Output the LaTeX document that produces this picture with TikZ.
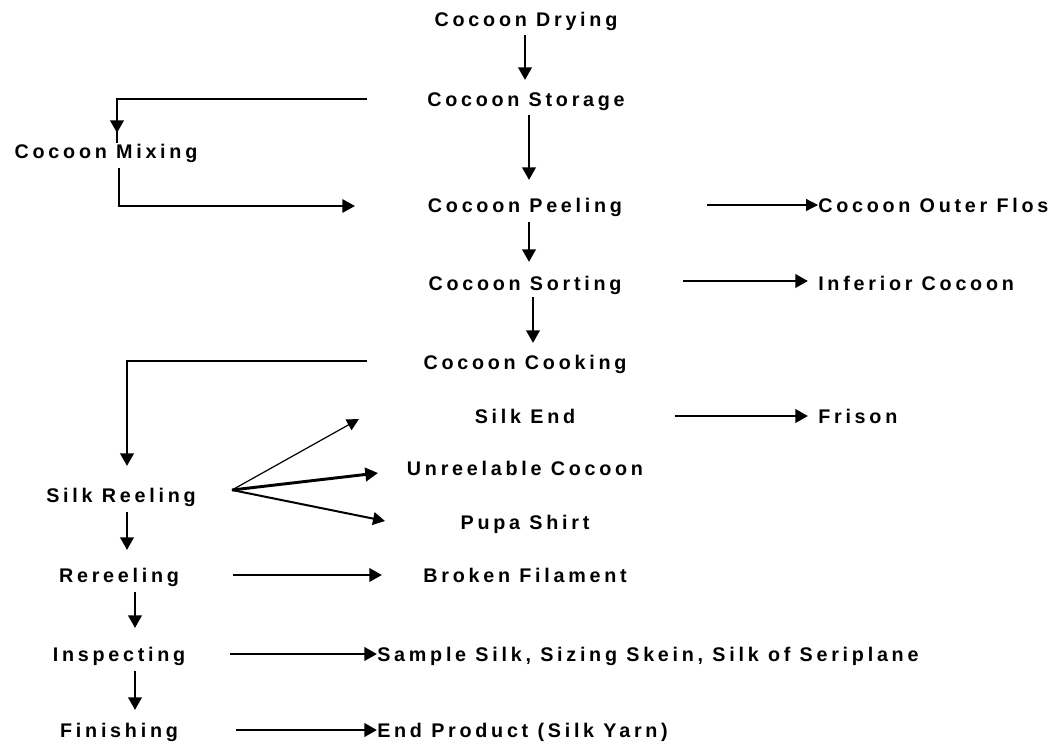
\documentclass[tikz,border=0pt]{standalone}
\usepackage{fontspec}
\setmainfont{Liberation Sans}[LetterSpace=19]
\usetikzlibrary{arrows.meta,calc}
\begin{document}
\begin{tikzpicture}[x=0.75pt,y=-0.75pt,
  lbl/.style={inner sep=0pt,text height=10.5pt,text depth=0pt,font=\fontsize{14.8pt}{16pt}\selectfont\bfseries},
  lblw/.style={lbl,anchor=west},
  arr/.style={line width=2.2pt,-{Triangle[length=9.5pt,width=10pt]}},
  arrthin/.style={line width=0.9pt,-{Triangle[length=9pt,width=9pt]}},
  arrmid/.style={line width=1.5pt,-{Triangle[length=9pt,width=9.5pt]}},
  thinline/.style={line width=1pt}]
\useasboundingbox (0,0) rectangle (1063,742);
\node[lbl] (drying) at (526,20) {Cocoon Drying};
\node[lbl] (storage) at (526,99) {Cocoon Storage};
\node[lbl] (mixing) at (106,151) {Cocoon Mixing};
\node[lbl] (peeling) at (525,205) {Cocoon Peeling};
\node[lblw] (flos) at (818,205) {Cocoon Outer Flos};
\node[lbl] (sorting) at (525,283) {Cocoon Sorting};
\node[lblw] (inferior) at (818,283) {Inferior Cocoon};
\node[lbl] (cooking) at (525,362) {Cocoon Cooking};
\node[lbl] (silkend) at (525,416) {Silk End};
\node[lblw] (frison) at (818,416) {Frison};
\node[lbl] (reeling) at (121,495) {Silk Reeling};
\node[lbl] (unreel) at (525,468) {Unreelable Cocoon};
\node[lbl] (pupa) at (525,522) {Pupa Shirt};
\node[lbl] (rereeling) at (119,575) {Rereeling};
\node[lbl] (broken) at (525,575) {Broken Filament};
\node[lbl] (inspecting) at (119,654) {Inspecting};
\node[lblw] (sample) at (377,654) {Sample Silk, Sizing Skein, Silk of Seriplane};
\node[lbl] (finishing) at (119,730) {Finishing};
\node[lblw] (endprod) at (377,730) {End Product (Silk Yarn)};

\draw[arr] ($(drying)+(-1,15)$) -- ($(storage)+(-1,-19)$);
\draw[thinline] ($(storage)+(-159,0)$) -| ($(mixing)+(11,-8)$);
\draw[arr] ($(mixing)+(11,-38)$) -- ($(mixing)+(11,-18)$);
\draw[arr] ($(storage)+(3,16)$) -- ($(peeling)+(4,-25)$);
\draw[line width=1.6pt,-{Triangle[length=9.5pt,width=10pt]}] ($(mixing)+(13,17)$) |- ($(peeling)+(-170,1)$);
\draw[arrthin] ($(peeling)+(182,0)$) -- (flos.west);
\draw[arr] ($(peeling)+(4,17)$) -- ($(sorting)+(4,-21)$);
\draw[arr] ($(sorting)+(158,-2)$) -- ($(inferior.west)+(-10,-2)$);
\draw[arr] ($(sorting)+(8,14)$) -- ($(cooking)+(8,-19)$);
\draw[thinline] ($(cooking)+(-158,-1)$) -| ($(reeling)+(6,-60)$);
\draw[arr] ($(reeling)+(6,-80)$) -- ($(reeling)+(6,-29)$);
\draw[arr] ($(silkend)+(150,0)$) -- ($(frison.west)+(-10,0)$);
\coordinate (fan) at ($(reeling)+(111,-5)$);
\draw[arrthin] (fan) -- ($(silkend)+(-166,3)$);
\draw[arr] (fan) -- ($(unreel)+(-147,5)$);
\draw[arrmid] (fan) -- ($(pupa)+(-140,-1)$);
\draw[arr] ($(reeling)+(6,17)$) -- ($(rereeling)+(8,-25)$);
\draw[arr] ($(rereeling)+(114,0)$) -- ($(broken)+(-143,0)$);
\draw[arr] ($(rereeling)+(16,17)$) -- ($(inspecting)+(16,-26)$);
\draw[arr] ($(inspecting)+(111,0)$) -- (sample.west);
\draw[arr] ($(inspecting)+(16,17)$) -- ($(finishing)+(16,-20)$);
\draw[arr] ($(finishing)+(117,0)$) -- (endprod.west);
\end{tikzpicture}
\end{document}
